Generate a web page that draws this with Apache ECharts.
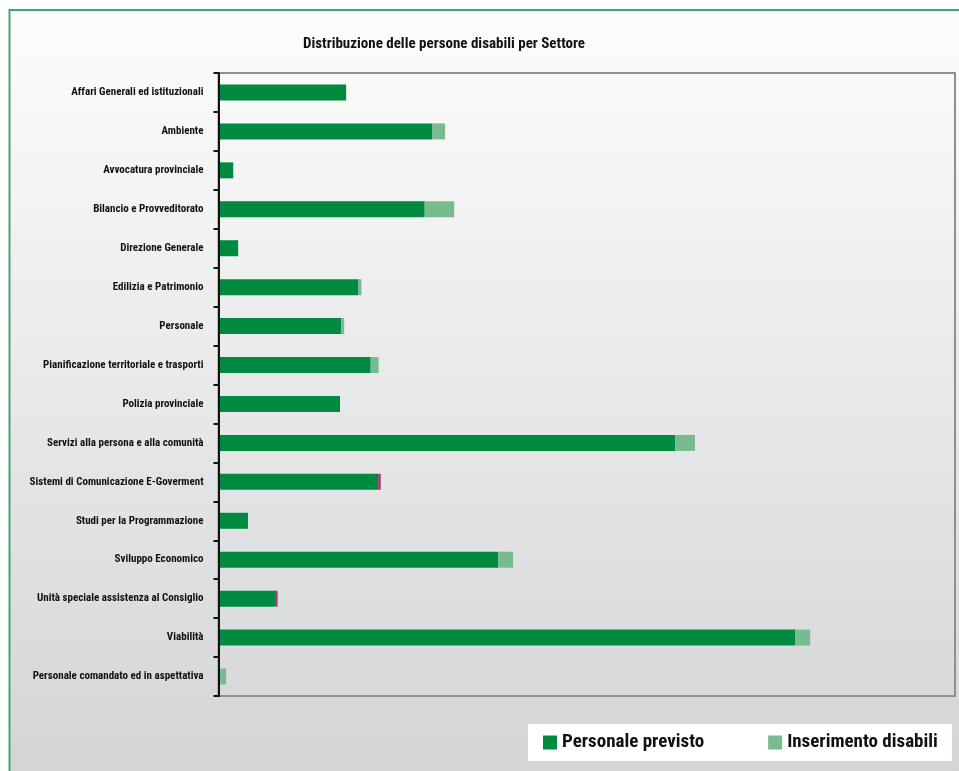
<!DOCTYPE html>
<html>
<head>
<meta charset="utf-8">
<script src="https://cdn.jsdelivr.net/npm/echarts@6/dist/echarts.min.js"></script>
<style>
html,body{margin:0;padding:0;background:#fff;}
#c{width:959px;height:771px;}
</style>
</head>
<body>
<div id="c"></div>
<script>
var categories = [
  "Affari Generali ed istituzionali",
  "Ambiente",
  "Avvocatura provinciale",
  "Bilancio e Provveditorato",
  "Direzione Generale",
  "Edilizia e Patrimonio",
  "Personale",
  "Pianificazione territoriale e trasporti",
  "Polizia provinciale",
  "Servizi alla persona e alla comunità",
  "Sistemi di Comunicazione E-Goverment",
  "Studi per la Programmazione",
  "Sviluppo Economico",
  "Unità speciale assistenza al Consiglio",
  "Viabilità",
  "Personale comandato ed in aspettativa"
];
var personalePrevisto = [52, 87, 6, 84, 8, 57, 50, 62, 49.5, 186, 65, 12, 114, 23, 235, 0];
var inserimentoDisabili = [0, 5.3, 0, 12, 0, 1.2, 1.2, 3.2, 0, 8.1, 0, 0, 6, 0, 6, 3.1];
var altro = [0, 0, 0, 0, 0, 0, 0, 0, 0, 0, 1.1, 0, 0, 1.1, 0, 0];

var FONT = "'Liberation Sans Narrow','Arial Narrow','Roboto Condensed',sans-serif";

var chart = echarts.init(document.getElementById('c'), null, {renderer:'canvas'});
chart.setOption({
  backgroundColor: '#ffffff',
  animation: false,
  graphic: [{
    type: 'rect',
    z: -10,
    silent: true,
    shape: {x: 9.5, y: 10, width: 960, height: 770},
    style: {
      fill: new echarts.graphic.LinearGradient(0, 0, 0, 1, [
        {offset: 0, color: '#fdfdfd'},
        {offset: 1, color: '#d3d4d6'}
      ]),
      stroke: '#3ea86e',
      lineWidth: 2
    }
  }],
  title: {
    text: 'Distribuzione delle persone disabili per Settore',
    left: 439,
    textAlign: 'center',
    top: 32,
    textStyle: {fontFamily: FONT, fontSize: 15, fontWeight: 'bold', color: '#111'}
  },
  legend: {
    data: ['Personale previsto', 'Inserimento disabili'],
    left: 528,
    top: 724,
    width: 425,
    backgroundColor: '#ffffff',
    padding: [9, 14, 9, 15],
    itemWidth: 14,
    itemHeight: 14,
    itemGap: 64,
    icon: 'rect',
    textStyle: {fontFamily: FONT, fontSize: 19, fontWeight: 'bold', color: '#111'}
  },
  grid: {
    left: 218.5,
    right: 4,
    top: 73,
    bottom: 75,
    show: true,
    backgroundColor: 'transparent',
    borderColor: '#8e8f92',
    borderWidth: 2
  },
  xAxis: {
    type: 'value',
    min: 0,
    max: 300,
    axisLabel: {show: false},
    axisTick: {show: false},
    splitLine: {show: false},
    axisLine: {show: true, lineStyle: {color: '#8e8f92', width: 2}}
  },
  yAxis: {
    type: 'category',
    data: categories,
    inverse: true,
    axisLine: {show: true, lineStyle: {color: '#111', width: 2}},
    axisTick: {show: true, length: 5, lineStyle: {color: '#111', width: 2}},
    axisLabel: {margin: 15, fontFamily: FONT, fontSize: 11, fontWeight: 'bold', color: '#111'},
    z: 10
  },
  series: [
    {name: 'Personale previsto', type: 'bar', stack: 's', barWidth: 16, data: personalePrevisto, itemStyle: {color: '#008a40'}},
    {name: 'Inserimento disabili', type: 'bar', stack: 's', barWidth: 16, data: inserimentoDisabili, itemStyle: {color: '#77bb8f'}},
    {name: 'Altro', type: 'bar', stack: 's', barWidth: 16, data: altro, itemStyle: {color: '#a03e7c'}}
  ]
});
</script>
</body>
</html>
